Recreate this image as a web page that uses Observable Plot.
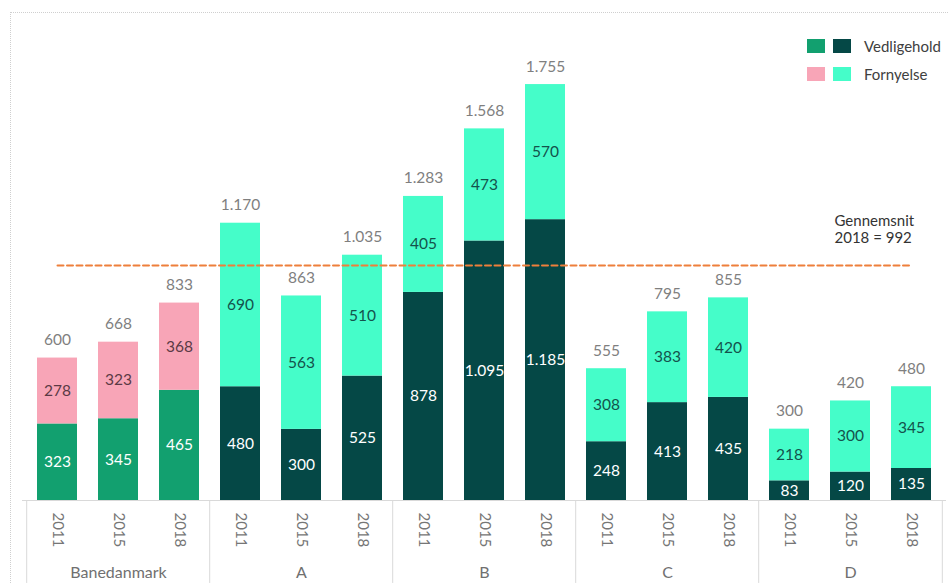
<!DOCTYPE html>
<html>
<head>
<meta charset="utf-8">
<script src="https://cdn.jsdelivr.net/npm/d3@7"></script>
<script src="https://cdn.jsdelivr.net/npm/@observablehq/plot@0.6"></script>
<style>
  body { margin: 0; background: #fff; font-family: Lato, "Open Sans", sans-serif; }
  #wrap { position: relative; width: 949px; height: 583px; overflow: hidden; }
  #border { position: absolute; left: 10px; top: 12px; width: 945px; height: 580px;
            border-top: 1px dotted #cfcfcf; border-left: 1px dotted #cfcfcf; pointer-events: none; }
  #legend { position: absolute; left: 807px; top: 38px; font-size: 15px; color: #404040; }
  .row { display: flex; align-items: center; height: 16px; margin-bottom: 12px; }
  .sw { width: 18px; height: 14px; margin-right: 8px; }
  .lab { margin-left: 5px; }
</style>
</head>
<body>
<div id="wrap">
  <div id="border"></div>
  <div id="chart"></div>
  <div id="legend"></div>
</div>
<script>
const groups = ["Banedanmark", "A", "B", "C", "D"];
const years = ["2011", "2015", "2018"];
const vedligehold = [323, 345, 465, 480, 300, 525, 878, 1095, 1185, 248, 413, 435, 83, 120, 135];
const fornyelse   = [278, 323, 368, 690, 563, 510, 405, 473, 570, 308, 383, 420, 218, 300, 345];
const totals      = [600, 668, 833, 1170, 863, 1035, 1283, 1568, 1755, 555, 795, 855, 300, 420, 480];
const average2018 = 992;
const averageLabel = "Gennemsnit\n2018 = 992";
const seriesNames = ["Vedligehold", "Fornyelse"];

const colors = {
  Banedanmark: { Vedligehold: "#12a06f", Fornyelse: "#f8a5b7" },
  other:       { Vedligehold: "#054846", Fornyelse: "#45fdc9" }
};
const textColors = {
  Banedanmark: { Vedligehold: "#ffffff", Fornyelse: "#5b3a45" },
  other:       { Vedligehold: "#ffffff", Fornyelse: "#14524c" }
};

const dk = d3.formatLocale({ decimal: ",", thousands: ".", grouping: [3], currency: ["", " kr."] });
const fmt = dk.format(",d");

const keys = [];
groups.forEach(g => years.forEach(y => keys.push(g + "|" + y)));

const rows = [];
keys.forEach((k, i) => {
  const g = k.split("|")[0];
  const c = g === "Banedanmark" ? "Banedanmark" : "other";
  rows.push({ key: k, type: "Vedligehold", value: vedligehold[i], fill: colors[c].Vedligehold, tc: textColors[c].Vedligehold });
  rows.push({ key: k, type: "Fornyelse", value: fornyelse[i], fill: colors[c].Fornyelse, tc: textColors[c].Fornyelse });
});
const totalRows = keys.map((k, i) => ({ key: k, total: totals[i] }));

const step = (949 - 22 - 3) / keys.length;

const chart = Plot.plot({
  width: 949,
  height: 583,
  marginLeft: 22,
  marginRight: 3,
  marginTop: 26,
  marginBottom: 83,
  style: { fontFamily: "Lato, 'Open Sans', sans-serif", background: "transparent" },
  x: { domain: keys, paddingInner: 0.34, paddingOuter: 0.17, axis: null },
  y: { domain: [0, 2000], axis: null },
  color: { type: "identity" },
  marks: [
    Plot.ruleY([0], { stroke: "#d9d9d9" }),
    Plot.ruleX(groups, { x: g => g + "|2011", y1: 0, y2: -350, dx: -step / 2, stroke: "#d9d9d9" }),
    Plot.ruleX(["D"], { x: g => g + "|2018", y1: 0, y2: -350, dx: step / 2, stroke: "#d9d9d9" }),
    Plot.barY(rows, { x: "key", y: "value", fill: "fill", order: seriesNames }),
    Plot.text(rows, Plot.stackY({ x: "key", y: "value", text: d => fmt(d.value), fill: "tc", fontSize: 15.5, order: seriesNames })),
    Plot.text(totalRows, { x: "key", y: "total", text: d => fmt(d.total), dy: -18, fill: "#7f7f7f", fontSize: 15.5 }),
    Plot.axisX({ tickFormat: k => k.split("|")[1], tickRotate: 90, tickSize: 0, tickPadding: 12, fontSize: 15, fill: "#767676", label: null }),
    Plot.text(groups, { x: g => g + "|2015", y: 0, dy: 72, text: d => d, fontSize: 16, fill: "#707070" }),
    Plot.lineY([{ k: keys[0], v: average2018 }, { k: keys[keys.length - 1], v: average2018 }],
      { x: "k", y: "v", stroke: "#ee7f3b", strokeWidth: 2, strokeDasharray: "6,3.5" }),
    Plot.text([averageLabel], { x: () => "D|2015", y: () => average2018, text: d => d, textAnchor: "start", lineAnchor: "bottom", dx: -16, dy: -22, fontSize: 15, fill: "#333333", lineHeight: 1.15 })
  ]
});
document.getElementById("chart").appendChild(chart);

const legend = document.getElementById("legend");
seriesNames.forEach(s => {
  const row = document.createElement("div");
  row.className = "row";
  [colors.Banedanmark[s], colors.other[s]].forEach(c => {
    const sw = document.createElement("div");
    sw.className = "sw";
    sw.style.background = c;
    row.appendChild(sw);
  });
  const lab = document.createElement("span");
  lab.className = "lab";
  lab.textContent = s;
  row.appendChild(lab);
  legend.appendChild(row);
});
</script>
</body>
</html>
